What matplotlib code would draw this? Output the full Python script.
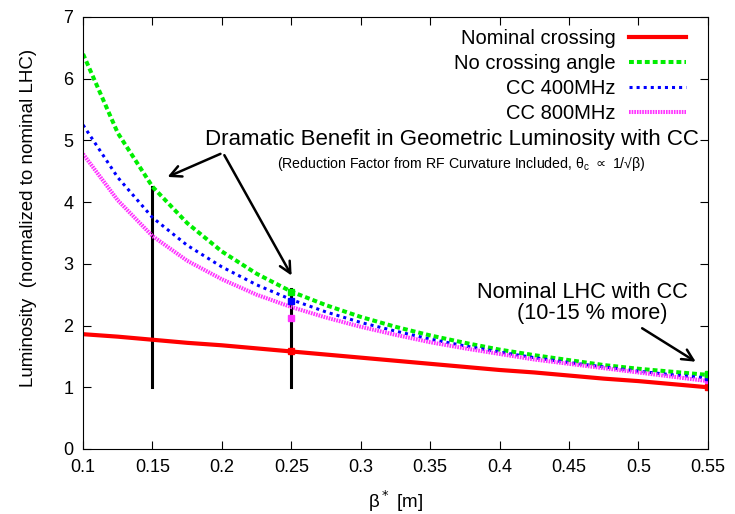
import matplotlib
matplotlib.use('Agg')
import matplotlib.pyplot as plt

plt.rcParams['font.family'] = ['Liberation Sans', 'DejaVu Sans']
plt.rcParams['lines.scale_dashes'] = False

beta = [0.1, 0.125, 0.15, 0.175, 0.2, 0.225, 0.25, 0.275, 0.3, 0.325,
        0.35, 0.375, 0.4, 0.425, 0.45, 0.475, 0.5, 0.525, 0.55]
nominal = [1.86, 1.82, 1.77, 1.72, 1.68, 1.63, 1.58, 1.53, 1.48, 1.43,
           1.38, 1.33, 1.28, 1.24, 1.19, 1.14, 1.10, 1.05, 1.00]
no_cross = [6.4, 5.12, 4.25, 3.66, 3.2, 2.84, 2.55, 2.33, 2.14, 1.98,
            1.84, 1.72, 1.61, 1.52, 1.44, 1.36, 1.30, 1.25, 1.20]
cc400 = [5.25, 4.4, 3.75, 3.3, 2.95, 2.66, 2.42, 2.22, 2.05, 1.91,
         1.78, 1.67, 1.57, 1.48, 1.40, 1.33, 1.26, 1.20, 1.15]
cc800 = [4.78, 4.03, 3.45, 3.05, 2.75, 2.5, 2.3, 2.13, 1.98, 1.85,
         1.73, 1.63, 1.54, 1.45, 1.38, 1.31, 1.24, 1.17, 1.10]

# highlighted points
pt_beta = [0.25, 0.55]
pt_green = [2.54, 1.21]
pt_blue = [2.40, 1.16]
pt_magenta = [2.12, 1.12]
pt_red = [1.58, 1.00]

# vertical markers (beta, top)
vlines_beta = [0.15, 0.25]
vlines_top = [4.25, 2.6]

dpi = 100
fig = plt.figure(figsize=(735 / dpi, 514 / dpi), dpi=dpi)
ax = fig.add_axes([0.113, 0.1265, 0.850, 0.8405])

ax.plot(beta, nominal, color='#ff0000', lw=3, label='Nominal crossing')
ax.plot(beta, no_cross, color='#00ee00', lw=2.9, dashes=(3.5, 2.2),
        label='No crossing angle')
ax.plot(beta, cc400, color='#0000ff', lw=2.2, dashes=(2.2, 2.9),
        label='CC 400MHz')
ax.plot(beta, cc800, color='#ff33ff', lw=2.9, dashes=(1.2, 0.7),
        label='CC 800MHz')

for b, top in zip(vlines_beta, vlines_top):
    ax.plot([b, b], [1, top], color='black', lw=2.2, zorder=1.5)

ax.plot(pt_beta, pt_red, 's', color='#ff0000', ms=5, ls='none')
ax.plot(pt_beta, pt_magenta, 's', color='#ff33ff', ms=5, ls='none')
ax.plot(pt_beta, pt_blue, 's', color='#0000ff', ms=5, ls='none')
ax.plot(pt_beta, pt_green, 's', color='#00ee00', ms=5, ls='none')

ax.set_xlim(0.1, 0.55)
ax.set_ylim(0, 7)
ax.set_xticks([0.1, 0.15, 0.2, 0.25, 0.3, 0.35, 0.4, 0.45, 0.5, 0.55])
ax.set_xticklabels(['0.1', '0.15', '0.2', '0.25', '0.3', '0.35', '0.4',
                    '0.45', '0.5', '0.55'])
ax.set_yticks(range(8))
ax.tick_params(direction='in', top=True, right=True, length=6,
               labelsize=13, pad=7)
ax.set_xlabel('β$^*$ [m]', fontsize=13.5, labelpad=9)
ax.set_ylabel('Luminosity  (normalized to nominal LHC)', fontsize=13.5)
ax.yaxis.set_label_coords(-0.074, 0.535)

arrow = dict(arrowstyle='->', color='black', lw=1.8, mutation_scale=20)
ax.annotate('', xy=(0.159, 4.39), xytext=(0.2008, 4.80), arrowprops=arrow)
ax.annotate('', xy=(0.2512, 2.77), xytext=(0.2008, 4.80), arrowprops=arrow)
ax.text(0.3657, 5.02, 'Dramatic Benefit in Geometric Luminosity with CC',
        fontsize=16, ha='center', va='center')
ax.text(0.3725, 4.62,
        '(Reduction Factor from RF Curvature Included, θ$_\\mathregular{c}$ $\\propto$ 1/√β)',
        fontsize=10.2, ha='center', va='center')

ax.annotate('', xy=(0.543, 1.39), xytext=(0.501, 1.98), arrowprops=arrow)
ax.text(0.46, 2.53, 'Nominal LHC with CC', fontsize=15.7, ha='center',
        va='center')
ax.text(0.467, 2.2, '(10-15 % more)', fontsize=15.7, ha='center',
        va='center')

ax.legend(loc='upper right', frameon=False, markerfirst=False,
          alignment='right', fontsize=14.5, handlelength=2.85,
          handletextpad=0.65, labelspacing=0.3, borderaxespad=0.2,
          bbox_to_anchor=(0.985, 1.0))

fig.savefig('out.png', dpi=dpi)
